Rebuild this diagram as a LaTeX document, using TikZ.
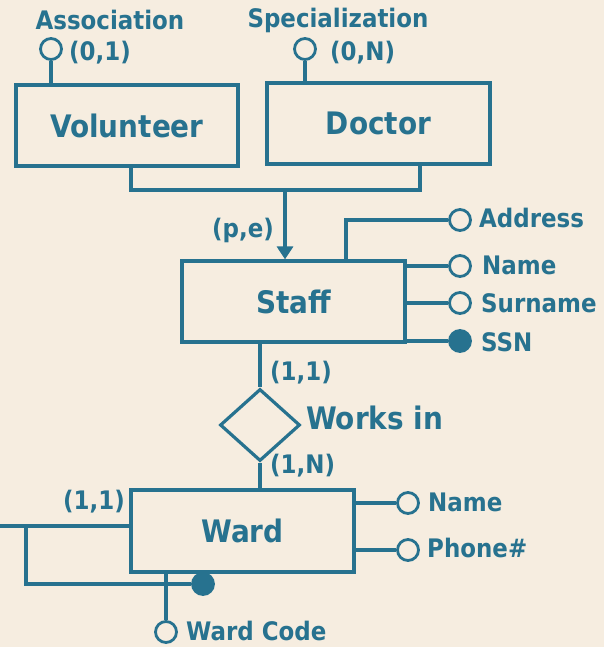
\documentclass[tikz,border=0pt]{standalone}
\usepackage{fontspec}
\setmainfont{DejaVu Sans Condensed}
\usetikzlibrary{arrows.meta,shapes.geometric}
\definecolor{er}{RGB}{39,114,143}
\definecolor{paper}{RGB}{246,237,224}
\tikzset{
  entity/.style={draw=er, line width=3.2pt, minimum width=#1, minimum height=81pt, inner sep=0pt, font=\fontsize{31}{34}\selectfont\bfseries, text=er},
  attr/.style={draw=er, line width=2.8pt, circle, minimum size=21pt, inner sep=0pt},
  keyattr/.style={attr, fill=er},
  lbl/.style={text=er, font=\fontsize{25.5}{28}\selectfont\bfseries, inner sep=0pt},
  link/.style={draw=er, line width=3.2pt},
  rel/.style={draw=er, line width=3.2pt, diamond, minimum width=80pt, minimum height=72pt, inner sep=0pt, aspect=1.1}
}
\begin{document}
\begin{tikzpicture}[x=1pt,y=-1pt]
\fill[paper] (0,0) rectangle (604,647);
\useasboundingbox (0,0) rectangle (604,647);

% entities
\node[entity=222pt] (vol) at (127,125.5) {Volunteer};
\node[entity=223pt] (doc) at (378.5,123.5) {Doctor};
\node[entity=223pt] (staff) at (293.5,301.5) {Staff};
\node[entity=223pt, minimum height=82pt] (ward) at (242.5,531) {Ward};

% relationship
\node[rel] (works) at (260,425) {};
\node[lbl, font=\fontsize{31}{34}\selectfont\bfseries, anchor=west] (workslbl) at (306,418) {Works in};

% attributes of Volunteer and Doctor
\node[attr] (assoc) at (51,49) {};
\node[lbl] (assoclbl) at (110,20) {Association};
\node[lbl, anchor=west] (assoccard) at (69,53) {(0,1)};
\draw[link] (assoc.south) -- (assoc.south |- vol.north);

\node[attr] (spec) at (305,49) {};
\node[lbl] (speclbl) at (338,20) {Specialization};
\node[lbl, anchor=west] (speccard) at (330,53) {(0,N)};
\draw[link] (spec.south) -- (spec.south |- doc.north);

% generalization
\coordinate (vj) at (131,190);
\coordinate (dj) at (420,190);
\coordinate (gj) at (285,190);
\draw[link] (vol.south -| vj) -- (vj) -- (dj) -- (doc.south -| dj);
\draw[link, -{Triangle[length=13pt,width=16pt]}] (gj) -- (gj |- staff.north);
\node[lbl, anchor=east] (pe) at (274,230) {(p,e)};

% attributes of Staff
\node[attr] (addr) at (460,220) {};
\node[lbl, anchor=west] (addrlbl) at (479,218) {Address};
\coordinate (addrj) at (346,220);
\draw[link] (addrj |- staff.north) -- (addrj) -- (addr.west);

\node[attr] (sname) at (460,266) {};
\node[lbl, anchor=west] (snamelbl) at (482,265) {Name};
\draw[link] (sname.west) -- (sname.west -| staff.east);

\node[attr] (surn) at (460,303) {};
\node[lbl, anchor=west] (surnlbl) at (481,303) {Surname};
\draw[link] (surn.west) -- (surn.west -| staff.east);

\node[keyattr] (ssn) at (460,341) {};
\node[lbl, anchor=west] (ssnlbl) at (481,342) {SSN};
\draw[link] (ssn.west) -- (ssn.west -| staff.east);

% Works in
\draw[link] (staff.south -| works.north) -- (works.north);
\draw[link] (works.south) -- (works.south |- ward.north);
\node[lbl, anchor=west] (c11) at (270,373) {(1,1)};
\node[lbl, anchor=west] (c1n) at (270,466) {(1,N)};

% attributes of Ward
\node[attr] (wname) at (408,503) {};
\node[lbl, anchor=west] (wnamelbl) at (428,502) {Name};
\draw[link] (wname.west) -- (wname.west -| ward.east);

\node[attr] (phone) at (408,550) {};
\node[lbl, anchor=west] (phonelbl) at (427,548) {Phone\#};
\draw[link] (phone.west) -- (phone.west -| ward.east);

% external identifier of Ward
\coordinate (ext) at (0,526);
\coordinate (extj) at (26,526);
\coordinate (extb) at (26,584);
\node[keyattr] (wkey) at (203,584) {};
\draw[link] (ext) -- (ext -| ward.west);
\draw[link] (extj) -- (extb) -- (wkey.west);
\node[lbl, anchor=east] (c11w) at (125,502) {(1,1)};

\node[attr] (wcode) at (166,632) {};
\node[lbl, anchor=base west] (wcodelbl) at (186,640) {Ward Code};
\draw[link] (wcode.north) -- (wcode.north |- ward.south);
\end{tikzpicture}
\end{document}
